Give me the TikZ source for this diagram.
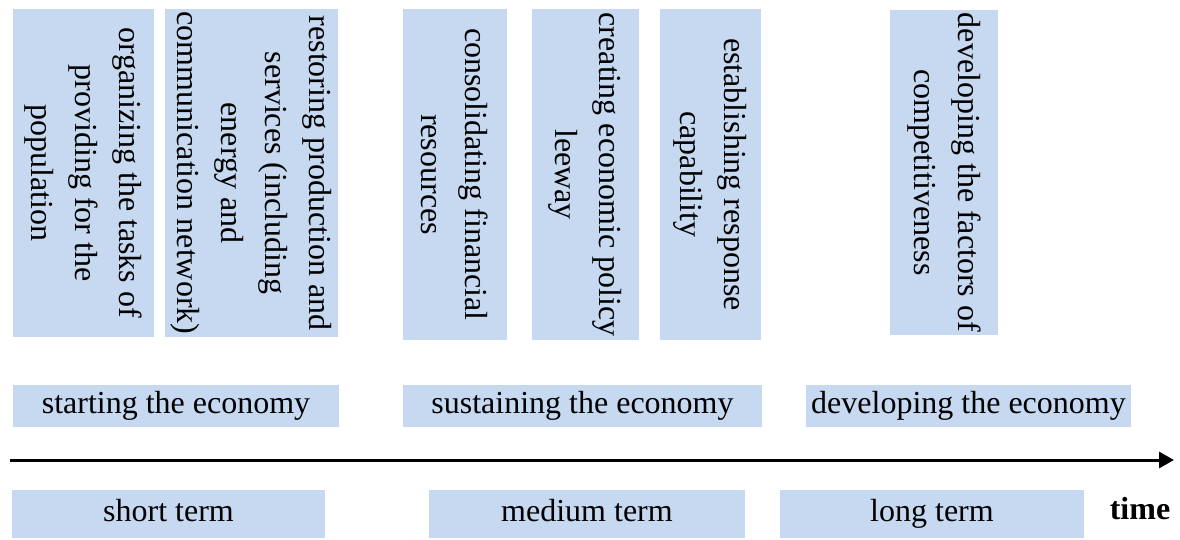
\documentclass[tikz,border=0pt]{standalone}
\usepackage{fontspec}
\setmainfont{Liberation Serif}
\usetikzlibrary{arrows.meta}
\definecolor{boxblue}{HTML}{C6D9F1}
\tikzset{
  base/.style={fill=boxblue, inner sep=0pt, align=center,
    font=\fontsize{32}{44}\selectfont},
  % vertical task box: #1 = page height, #2 = page width
  taskbox/.style 2 args={base, rotate=-90, minimum width=#1, minimum height=#2},
  % horizontal label box, common baseline for every label
  phasebox/.style 2 args={base, minimum width=#1, minimum height=#2,
    text height=22pt, text depth=7pt},
}
\begin{document}
\begin{tikzpicture}[x=1pt,y=-1pt]
\useasboundingbox (0,0) rectangle (1180,540);

% tasks
\node[taskbox={328pt}{141pt}] (t1) at (83.5,173)
  {organizing the tasks of\\ providing for the\\ population};
\node[taskbox={328pt}{173pt}] (t2) at (251.5,173)
  {restoring production and\\ services (including\\ energy and\\ communication network)};
\node[taskbox={331pt}{104pt}] (t3) at (455,174.5)
  {consolidating financial\\ resources};
\node[taskbox={331pt}{107pt}] (t4) at (585.5,174.5)
  {creating economic policy\\ leeway};
\node[taskbox={331pt}{101pt}] (t5) at (710.5,174.5)
  {establishing response\\ capability};
\node[taskbox={325pt}{108pt}] (t6) at (944,172.5)
  {developing the factors of\\ competitiveness};

% phases
\node[phasebox={326pt}{42pt}] (p1) at (176,406) {starting the economy};
\node[phasebox={359pt}{42pt}] (p2) at (582.5,406) {sustaining the economy};
\node[phasebox={325pt}{42pt}] (p3) at (968.5,406) {developing the economy};

% time axis
\coordinate (axs) at (10,460);
\coordinate (axe) at (1174,460);
\draw[line width=3pt, -{Triangle[length=15pt,width=16pt]}] (axs) -- (axe);

% horizons
\node[phasebox={313pt}{48pt}] (h1) at (168.5,514) {short term};
\node[phasebox={316pt}{48pt}] (h2) at (587,514) {medium term};
\node[phasebox={304pt}{48pt}] (h3) at (932,514) {long term};
\node[font=\fontsize{32}{44}\selectfont\bfseries, inner sep=0pt,
  text height=22pt, text depth=7pt] (tm) at (1140,512) {time};
\end{tikzpicture}
\end{document}
